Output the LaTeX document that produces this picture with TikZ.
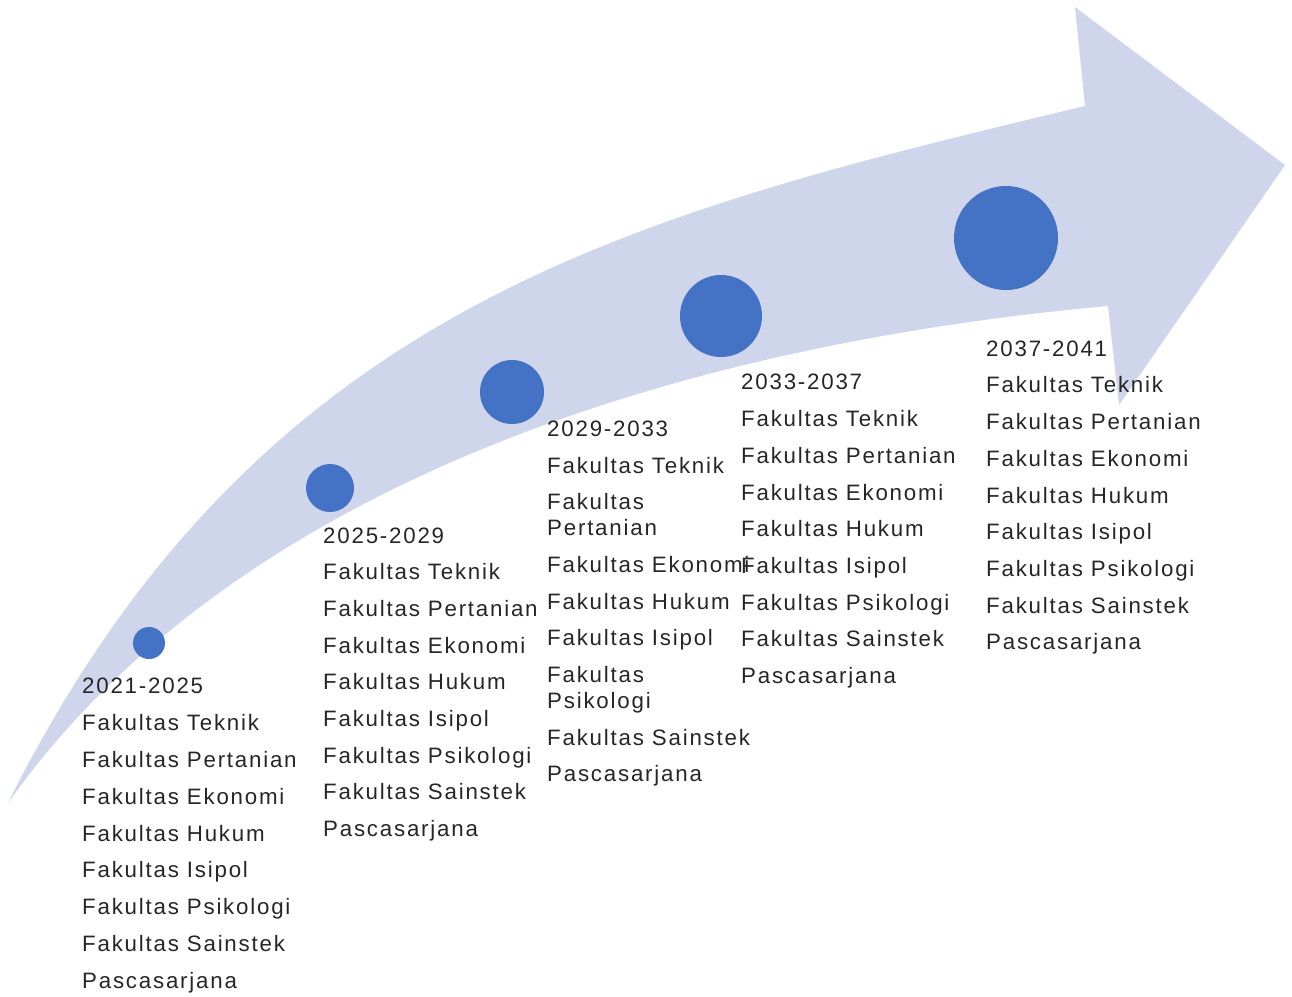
\documentclass[tikz,border=0pt]{standalone}
\usepackage{fontspec}
\setmainfont{Liberation Sans}[LetterSpace=8]
\definecolor{bandcol}{HTML}{CFD5EA}
\definecolor{dotcol}{HTML}{4472C4}
\definecolor{txtcol}{HTML}{262626}
\begin{document}
\begin{tikzpicture}[x=1pt,y=-1pt,
  lbl/.style={anchor=base west,inner sep=0pt,text=txtcol,font=\fontsize{22.3}{26}\selectfont},
  dot/.style={circle,fill=dotcol,inner sep=0pt}]
\useasboundingbox (0,0) rectangle (1292,996);
% curved arrow
\fill[bandcol] (8,803) .. controls (258,303) and (635,214) .. (1085,106)
  -- (1075,7) -- (1285,165) -- (1119,405) -- (1108,306)
  .. controls (699.5,342.8) and (240.5,474.3) .. (8,803) -- cycle;
% dots
\node[dot,minimum size=32pt] (d1) at (149,643) {};
\node[dot,minimum size=48pt] (d2) at (330,488) {};
\node[dot,minimum size=64pt] (d3) at (512,392) {};
\node[dot,minimum size=82pt] (d4) at (721,316) {};
\node[dot,minimum size=104pt] (d5) at (1006,238) {};
% column 1
\foreach \t/\y [count=\i] in {2021-2025/693,Fakultas Teknik/730,Fakultas Pertanian/767,Fakultas Ekonomi/804,Fakultas Hukum/841,Fakultas Isipol/877,Fakultas Psikologi/914,Fakultas Sainstek/951,Pascasarjana/988}
  \node[lbl] (a\i) at (82,\y) {\t};
% column 2
\foreach \t/\y [count=\i] in {2025-2029/543,Fakultas Teknik/579,Fakultas Pertanian/616,Fakultas Ekonomi/653,Fakultas Hukum/689,Fakultas Isipol/726,Fakultas Psikologi/763,Fakultas Sainstek/799,Pascasarjana/836}
  \node[lbl] (b\i) at (323,\y) {\t};
% column 3
\foreach \t/\y [count=\i] in {2029-2033/436,Fakultas Teknik/473,Fakultas/509,Pertanian/535,Fakultas Ekonomi/572,Fakultas Hukum/609,Fakultas Isipol/645,Fakultas/682,Psikologi/708,Fakultas Sainstek/745,Pascasarjana/781}
  \node[lbl] (c\i) at (547,\y) {\t};
% column 4
\foreach \t/\y [count=\i] in {2033-2037/389,Fakultas Teknik/426,Fakultas Pertanian/463,Fakultas Ekonomi/500,Fakultas Hukum/536,Fakultas Isipol/573,Fakultas Psikologi/610,Fakultas Sainstek/646,Pascasarjana/683}
  \node[lbl] (e\i) at (741,\y) {\t};
% column 5
\foreach \t/\y [count=\i] in {2037-2041/356,Fakultas Teknik/392,Fakultas Pertanian/429,Fakultas Ekonomi/466,Fakultas Hukum/503,Fakultas Isipol/539,Fakultas Psikologi/576,Fakultas Sainstek/613,Pascasarjana/649}
  \node[lbl] (f\i) at (986,\y) {\t};
\end{tikzpicture}
\end{document}
